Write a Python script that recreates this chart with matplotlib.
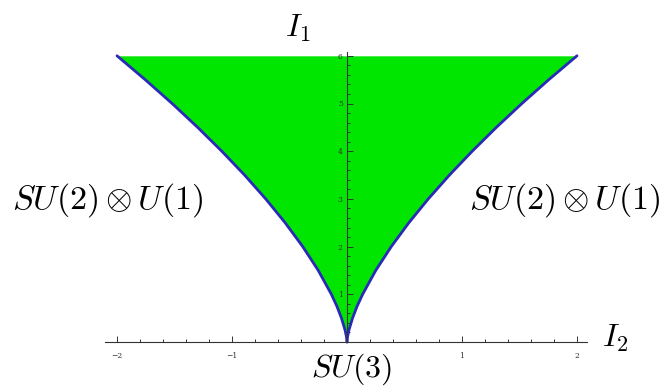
import numpy as np
import matplotlib
matplotlib.use('Agg')
from matplotlib import pyplot as plt
from matplotlib.ticker import FixedLocator

# boundary of the region (I1 vs |I2|)
i1 = [0, 0.1, 0.25, 0.5, 0.75, 1.0, 1.5, 2.0, 2.5, 3.0, 3.5, 4.0, 4.5, 5.0, 5.5, 6.0]
i2_half = [0, 0.004, 0.017, 0.048, 0.088, 0.136, 0.25, 0.385, 0.538, 0.707,
           0.891, 1.089, 1.299, 1.521, 1.755, 2.0]

x_ticks = [-2, -1, 1, 2]
y_ticks = [1, 2, 3, 4, 5, 6]

plt.rcParams['mathtext.fontset'] = 'cm'

fig = plt.figure(figsize=(6.64, 3.87), dpi=100)
ax = fig.add_axes([0, 0, 1, 1])

# pixel mapping of the reference: x=0 at 347px (115 px/unit), y=0 at 342px (47.7 px/unit)
ax.set_xlim(-347 / 115, (664 - 347) / 115)
ax.set_ylim(-(387 - 342) / 47.7, 342 / 47.7)

left = [-v for v in i2_half]
right = list(i2_half)
ax.fill_betweenx(i1, left, right, color='#00e600', lw=0, zorder=1)
ax.plot(left, i1, color='#2a2ab8', lw=2, zorder=2, solid_capstyle='round')
ax.plot(right, i1, color='#2a2ab8', lw=2, zorder=2, solid_capstyle='round')

for s in ['top', 'right']:
    ax.spines[s].set_visible(False)
ax.spines['bottom'].set_position(('data', 0))
ax.spines['left'].set_position(('data', 0))
ax.spines['bottom'].set_bounds(-2.1, 2.09)
ax.spines['left'].set_bounds(0, 6.08)
for s in ['bottom', 'left']:
    ax.spines[s].set_color('#333333')
    ax.spines[s].set_linewidth(0.8)
    ax.spines[s].set_zorder(3)

ax.xaxis.set_major_locator(FixedLocator(x_ticks))
ax.yaxis.set_major_locator(FixedLocator(y_ticks))
ax.xaxis.set_minor_locator(FixedLocator([t / 5 for t in range(-10, 11) if t % 5]))
ax.yaxis.set_minor_locator(FixedLocator([t / 5 for t in range(1, 31) if t % 5]))
ax.set_xticklabels(['\u22122', '\u22121', '1', '2'])
ax.set_yticklabels([str(v) for v in y_ticks])
ax.tick_params(which='both', direction='in', color='#333333', width=0.7,
               labelsize=5.5, labelcolor='#333333')
ax.tick_params(which='major', length=4)
ax.tick_params(which='minor', length=2.5)
ax.tick_params(axis='x', which='major', pad=7)
ax.tick_params(axis='y', which='major', pad=3)
for lab in ax.get_xticklabels() + ax.get_yticklabels():
    lab.set_family('DejaVu Serif')

ax.text(-0.43, 6.58, r'$I_1$', fontsize=23, ha='center', va='center')
ax.text(2.33, 0.08, r'$I_2$', fontsize=23, ha='center', va='center')
ax.text(-2.08, 2.98, r'$SU(2)\otimes U(1)$', fontsize=24.5, ha='center', va='center')
ax.text(1.89, 2.98, r'$SU(2)\otimes U(1)$', fontsize=24.5, ha='center', va='center')
ax.text(0.04, -0.57, r'$SU(3)$', fontsize=23, ha='center', va='center')

fig.savefig('out.png', dpi=100)
